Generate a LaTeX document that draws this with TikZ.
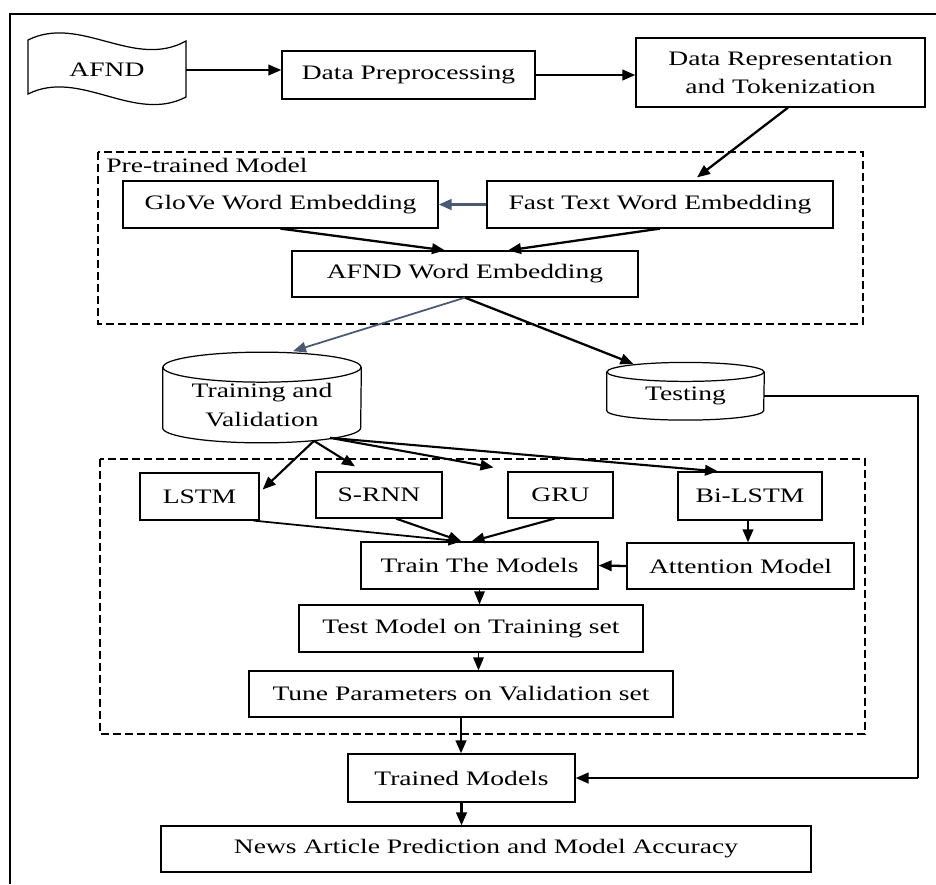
\documentclass[tikz,border=0pt]{standalone}
\usepackage{fontspec}
\setmainfont{Liberation Serif}[FakeStretch=1.34]
\usetikzlibrary{arrows.meta, positioning}
\definecolor{slategray}{HTML}{4A5A73}

\begin{document}
\begin{tikzpicture}[x=0.2mm, y=-0.2mm,
  every node/.style={font=\fontsize{11.7}{16}\selectfont},
  box/.style={draw, line width=0.7pt, inner sep=0pt, align=center},
  store/.style={inner sep=0pt, align=center},
  arr/.style={line width=1.3pt, -{Triangle[length=2.6mm,width=2.1mm]}},
  grayarr/.style={arr, color=slategray},
  groupbox/.style={line width=1pt, dash pattern=on 1.6mm off 0.8mm}]
\useasboundingbox (0,0) rectangle (936,884);

% outer frame
\draw[line width=1.1pt] (10,884) -- (10,14) -- (936,14);

% data source and preparation
\node[store, minimum width=31.6mm, minimum height=10mm] (afnd) at (107,70) {AFND};
\draw[line width=0.7pt] (28,40) .. controls (80,14) and (134,70) .. (186,41) -- (186,97)
  .. controls (134,124) and (80,68) .. (28,94) -- cycle;
\node[box, minimum width=50.6mm, minimum height=9.6mm] (prep) at (408.5,75) {Data Preprocessing};
\node[box, minimum width=57.8mm, minimum height=13.8mm] (repr) at (780.5,72.5) {Data Representation\\and Tokenization};
\draw[arr] (afnd.east) -- (afnd.east -| prep.west);
\draw[arr] (prep.east) -- (prep.east -| repr.west);

% pre-trained model
\draw[groupbox] (98,152) rectangle (863,324);
\node[anchor=base west, inner sep=0pt] (ptlabel) at (106,172) {Pre-trained Model};
\node[box, minimum width=63mm, minimum height=9.4mm] (glove) at (280.5,204.5) {GloVe Word Embedding};
\node[box, minimum width=69.2mm, minimum height=9.4mm] (fasttext) at (660,204.5) {Fast Text Word Embedding};
\node[box, minimum width=69.2mm, minimum height=9.2mm] (afndemb) at (465,274) {AFND Word Embedding};
\draw[arr] ([xshift=1.5mm]repr.south) -- ([shift={(37,-3)}]fasttext.north);
\draw[grayarr, line width=1.7pt] (fasttext.west) -- (glove.east);
\draw[arr] (glove.south) -- ([xshift=-4mm]afndemb.north);
\draw[arr] (fasttext.south) -- ([xshift=8.6mm]afndemb.north);

% data split
\node[store, minimum width=39.6mm, minimum height=15mm] (tvset) at (262,405) {Training and\\Validation};
\draw[line width=0.7pt] (tvset.north) ellipse [x radius=19.8mm, y radius=3mm];
\draw[line width=0.7pt] (tvset.north west) -- ([yshift=3mm]tvset.south west)
  arc [start angle=180, end angle=360, x radius=19.8mm, y radius=3mm] -- (tvset.north east);
\node[store, minimum width=31.4mm, minimum height=9.5mm] (testset) at (685.5,396) {Testing};
\draw[line width=0.7pt] (testset.north) ellipse [x radius=15.7mm, y radius=1.9mm];
\draw[line width=0.7pt] (testset.north west) -- ([yshift=1.9mm]testset.south west)
  arc [start angle=180, end angle=360, x radius=15.7mm, y radius=1.9mm] -- (testset.north east);
\draw[grayarr, line width=1pt] (afndemb.south) -- ([shift={(31,-16)}]tvset.north);
\draw[arr] (afndemb.south) -- ([shift={(-52,-8)}]testset.north);

% training of the models
\draw[groupbox] (100,459) rectangle (865,734);
\node[box, minimum width=23.8mm, minimum height=9.4mm] (lstm) at (199.5,496.5) {LSTM};
\node[box, minimum width=25.2mm, minimum height=9.2mm] (srnn) at (379,495) {S-RNN};
\node[box, minimum width=21mm, minimum height=9.2mm] (gru) at (560.5,495) {GRU};
\node[box, minimum width=28.8mm, minimum height=9.6mm] (bilstm) at (750,496) {Bi-LSTM};
\node[box, minimum width=47.4mm, minimum height=9.4mm] (trainmodels) at (479.5,565.5) {Train The Models};
\node[box, minimum width=45.4mm, minimum height=9.2mm] (attention) at (740.5,566) {Attention Model};
\node[box, minimum width=68.8mm, minimum height=9.4mm] (testmodel) at (471,628.5) {Test Model on Training set};
\node[box, minimum width=84.8mm, minimum height=9.2mm] (tune) at (461,694) {Tune Parameters on Validation set};
\draw[arr, line width=1.2pt] ([shift={(52,-2)}]tvset.south) -- ([shift={(3,-7)}]lstm.east);
\draw[arr, line width=1.2pt] ([shift={(52,-2)}]tvset.south) -- ([shift={(-24,-5)}]srnn.north);
\draw[arr, line width=1.2pt] ([shift={(68,-5)}]tvset.south) -- ([shift={(-67,-4)}]gru.north);
\draw[arr, line width=1.2pt] ([shift={(68,-5)}]tvset.south) -- ([shift={(-32,0)}]bilstm.north);
\draw[arr, line width=1pt] ([xshift=-1.2mm]lstm.south east) -- ([xshift=-3.6mm]trainmodels.north);
\draw[arr, line width=1.2pt] ([xshift=3.4mm]srnn.south) -- ([xshift=-3.6mm]trainmodels.north);
\draw[arr, line width=1.2pt] ([xshift=-1.2mm]gru.south) -- ([xshift=-1.6mm]trainmodels.north);
\draw[arr] ([xshift=-0.4mm]bilstm.south) -- ([xshift=-0.4mm]bilstm.south |- attention.north);
\draw[arr] (attention.west) -- (trainmodels.east);
\draw[arr, line width=1pt] (trainmodels.south) -- (trainmodels.south |- testmodel.north);
\draw[arr, line width=1pt] ([xshift=1.5mm]testmodel.south) -- ([xshift=1.5mm]testmodel.south |- tune.north);

% results
\node[box, minimum width=45.4mm, minimum height=9.6mm] (trained) at (461.5,778) {Trained Models};
\node[box, minimum width=130mm, minimum height=9.2mm] (predict) at (486,849) {News Article Prediction and Model Accuracy};
\coordinate (bend) at (918,778);
\draw[arr, line width=1.5pt] (tune.south) -- (tune.south |- trained.north);
\draw[arr, line width=1.5pt] (trained.south) -- (trained.south |- predict.north);
\draw[line width=0.7pt] (testset.east) -| (bend);
\draw[arr, line width=1.5pt] (bend) -- (trained.east);
\end{tikzpicture}
\end{document}
